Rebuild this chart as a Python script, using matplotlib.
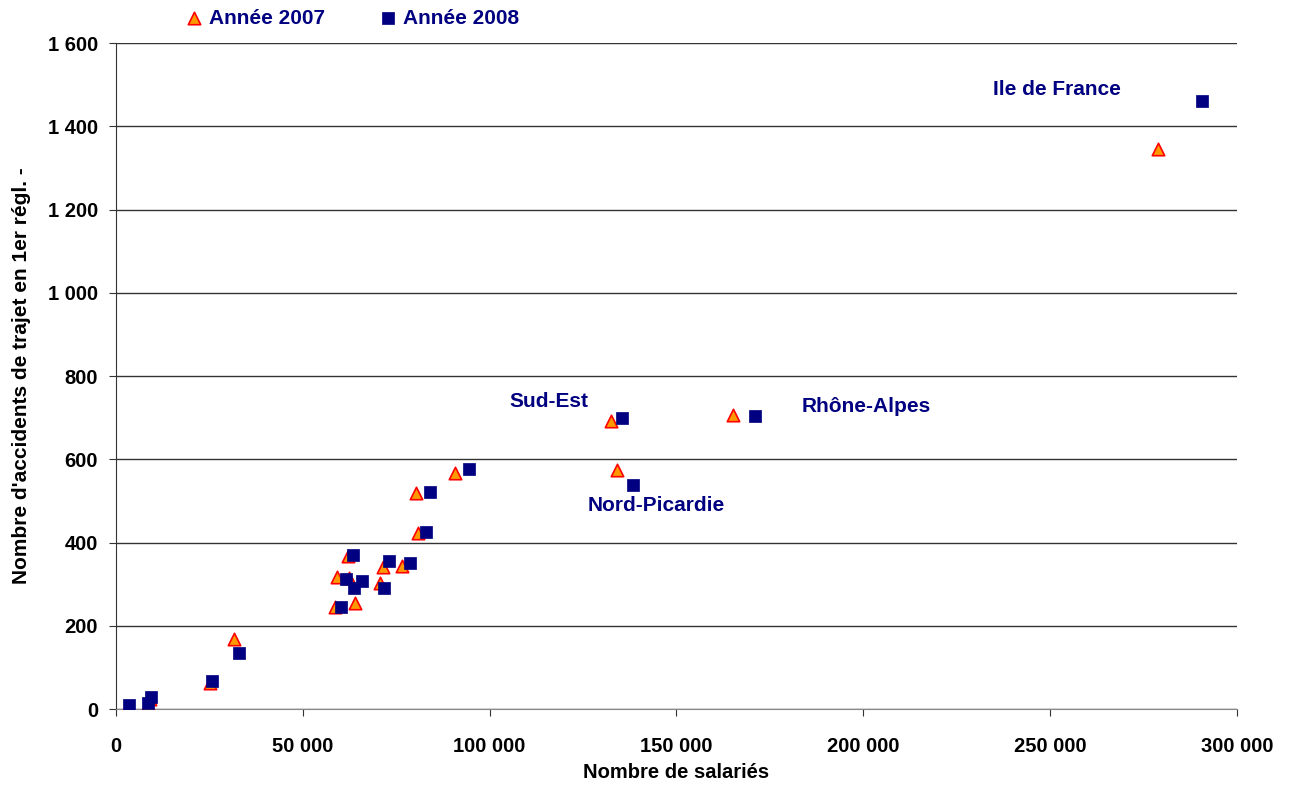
import matplotlib.pyplot as plt
from matplotlib.ticker import FuncFormatter

plt.rcParams['font.family'] = ['Liberation Sans', 'DejaVu Sans']

# Année 2007 (triangles)
sal_2007 = [2900, 8500, 9100, 25200, 31600, 58600, 64000, 59100, 62400, 70700,
            62100, 71500, 76500, 80800, 80300, 90700, 132500, 134100, 165100, 278900]
acc_2007 = [2, 12, 24, 62, 168, 245, 255, 317, 315, 303,
            368, 341, 344, 423, 519, 567, 692, 574, 706, 1345]

# Année 2008 (carrés)
sal_2008 = [3500, 8600, 9400, 25700, 32900, 60200, 61600, 63700, 65800, 63400,
            71700, 73100, 78700, 83000, 84000, 94500, 135400, 138400, 171000, 290600]
acc_2008 = [10, 14, 29, 67, 135, 245, 312, 291, 308, 370,
            291, 356, 351, 425, 521, 577, 699, 538, 704, 1461]

regions = ["Ile de France", "Sud-Est", "Rhône-Alpes", "Nord-Picardie"]
region_x = [251800, 115800, 200700, 144500]
region_y = [1489, 739, 727, 489]

navy = "#000080"

fig = plt.figure(figsize=(12.93, 7.85), dpi=100)
ax = fig.add_axes([0.0897, 0.0968, 0.867, 0.8484])

ax.scatter(sal_2007, acc_2007, marker="^", s=80, facecolor="#FF9900",
           edgecolor="#FF0000", linewidth=1.2, label="Année 2007", zorder=3)
ax.scatter(sal_2008, acc_2008, marker="s", s=70, facecolor=navy,
           edgecolor=navy, linewidth=0.5, label="Année 2008", zorder=4)

for name, x, y in zip(regions, region_x, region_y):
    ax.text(x, y, name, color=navy, fontsize=15, fontweight="bold",
            ha="center", va="center")

ax.set_xlim(0, 300000)
ax.set_ylim(0, 1600)
ax.set_xticks(range(0, 300001, 50000))
ax.set_yticks(range(0, 1601, 200))
fmt = FuncFormatter(lambda v, p: f"{int(v):,}".replace(",", " "))
ax.xaxis.set_major_formatter(fmt)
ax.yaxis.set_major_formatter(fmt)

ax.grid(axis="y", color="#333333", linewidth=1)
ax.set_axisbelow(True)
for s in ["top", "right"]:
    ax.spines[s].set_visible(False)
ax.spines["left"].set_color("#333333")
ax.spines["bottom"].set_color("#888888")
ax.tick_params(axis="both", labelsize=14.5, length=5, color="#333333")
ax.tick_params(axis="x", pad=15)
ax.tick_params(axis="y", pad=8)
for lab in ax.get_xticklabels() + ax.get_yticklabels():
    lab.set_fontweight("bold")

ax.set_xlabel("Nombre de salariés", fontsize=14.5, fontweight="bold", labelpad=5)
ax.set_ylabel("Nombre d'accidents de trajet en 1er régl. -", fontsize=15,
              fontweight="bold", labelpad=12)

leg = fig.legend(loc="center left", bbox_to_anchor=(0.1342, 0.977), ncol=2,
                 frameon=False, fontsize=15, handletextpad=0.2, handlelength=1.0,
                 borderpad=0, columnspacing=2.55, markerscale=1.0)
for t in leg.get_texts():
    t.set_color(navy)
    t.set_fontweight("bold")

fig.savefig("out.png", dpi=100)
